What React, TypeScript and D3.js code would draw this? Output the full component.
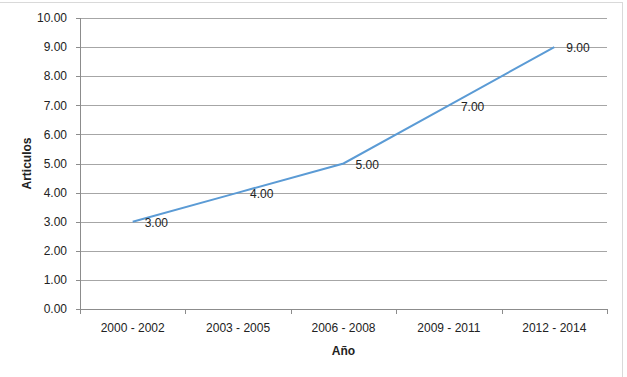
import React from "react";
import * as d3 from "d3";

const categories = ["2000 - 2002", "2003 - 2005", "2006 - 2008", "2009 - 2011", "2012 - 2014"];
const values = [3, 4, 5, 7, 9];
const yTicks = [0, 1, 2, 3, 4, 5, 6, 7, 8, 9, 10];
const xTitle = "Año";
const yTitle = "Articulos";

const W = 627;
const H = 377;
const left = 80;
const right = 607;
const top = 18;
const bottom = 309;
const font = "'Liberation Sans', Arial, sans-serif";

export default function App() {
  const x = d3.scaleBand<string>().domain(categories).range([left, right]).padding(0);
  const y = d3.scaleLinear().domain([0, 10]).range([bottom, top]);
  const cx = (c: string) => (x(c) as number) + x.bandwidth() / 2;
  const line = d3
    .line<number>()
    .x((_, i) => cx(categories[i]))
    .y((d) => y(d));
  const snap = (v: number) => Math.round(v) + 0.5;

  return (
    <svg
      width={W}
      height={H}
      style={{ position: "absolute", left: 0, top: 0, background: "#fff" }}
      fontFamily={font}
    >
      <rect x={-10} y={2.5} width={632.5} height={400} fill="#fff" stroke="#d9d9d9" strokeWidth={1} />
      {/* gridlines */}
      {yTicks.map((t) => (
        <line key={"g" + t} x1={left} x2={right} y1={snap(y(t))} y2={snap(y(t))} stroke="#a6a6a6" strokeWidth={1} />
      ))}
      {/* y axis */}
      <line x1={snap(left)} x2={snap(left)} y1={top} y2={bottom + 4} stroke="#8c8c8c" strokeWidth={1} />
      {yTicks.map((t) => (
        <g key={"yt" + t}>
          <line x1={left - 4} x2={left} y1={snap(y(t))} y2={snap(y(t))} stroke="#8c8c8c" />
          <text x={67} y={y(t)} dy="0.35em" textAnchor="end" fontSize={12} fill="#222">
            {d3.format(".2f")(t)}
          </text>
        </g>
      ))}
      {/* x axis */}
      <line x1={left} x2={right} y1={snap(bottom)} y2={snap(bottom)} stroke="#8c8c8c" />
      {[...categories.map((c) => x(c) as number), right].map((px, i) => (
        <line key={"xt" + i} x1={snap(px)} x2={snap(px)} y1={bottom} y2={bottom + 5} stroke="#8c8c8c" />
      ))}
      {categories.map((c) => (
        <text key={"xl" + c} x={cx(c)} y={328} dy="0.35em" textAnchor="middle" fontSize={12} fill="#222">
          {c}
        </text>
      ))}
      {/* series */}
      <path d={line(values) || ""} fill="none" stroke="#5b9bd5" strokeWidth={2} />
      {values.map((v, i) => (
        <text
          key={"dl" + i}
          x={cx(categories[i]) + 12}
          y={y(v) + 1}
          dy="0.35em"
          textAnchor="start"
          fontSize={12}
          fill="#222"
        >
          {d3.format(".2f")(v)}
        </text>
      ))}
      {/* titles */}
      <text x={(left + right) / 2} y={351} dy="0.35em" textAnchor="middle" fontSize={12} fontWeight="bold" fill="#222">
        {xTitle}
      </text>
      <text
        transform={`translate(27,${(top + bottom) / 2}) rotate(-90)`}
        dy="0.35em"
        textAnchor="middle"
        fontSize={12}
        fontWeight="bold"
        fill="#222"
      >
        {yTitle}
      </text>
    </svg>
  );
}
